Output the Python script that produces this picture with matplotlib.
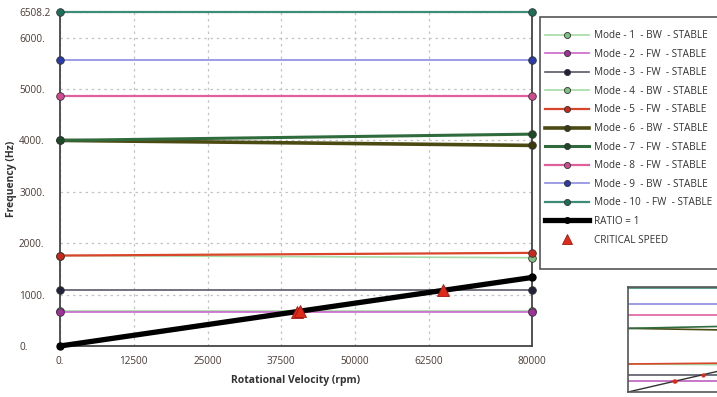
import matplotlib
matplotlib.use('Agg')
import matplotlib.pyplot as plt
from matplotlib.patches import Rectangle

plt.rcParams['font.family'] = ['Open Sans', 'DejaVu Sans']

# rotational speed at which each mode was evaluated (rpm)
speed = [0, 80000]

mode_labels = [
    'Mode - 1  - BW  - STABLE',
    'Mode - 2  - FW  - STABLE',
    'Mode - 3  - FW  - STABLE',
    'Mode - 4  - BW  - STABLE',
    'Mode - 5  - FW  - STABLE',
    'Mode - 6  - BW  - STABLE',
    'Mode - 7  - FW  - STABLE',
    'Mode - 8  - FW  - STABLE',
    'Mode - 9  - BW  - STABLE',
    'Mode - 10  - FW  - STABLE',
]
# frequency (Hz) at 0 and 80000 rpm
mode_freqs = [
    [678, 678],
    [665, 665],
    [1088, 1088],
    [1760, 1718],
    [1760, 1812],
    [4000, 3903],
    [4000, 4122],
    [4870, 4870],
    [5560, 5560],
    [6508.2, 6508.2],
]
line_colors = ['#a6dba6', '#cc66cc', '#5a5a6a', '#a6dba6', '#d9452a',
               '#4b4a12', '#2f6b3c', '#e0609e', '#8c8ce0', '#3d8c78']
marker_colors = ['#7fc07f', '#a0309a', '#22223a', '#7fc07f', '#c8281a',
                 '#3a3a0c', '#1c4a26', '#d04a90', '#2a3ca8', '#1f6e5a']
line_widths = [1.2, 1.2, 1.2, 1.2, 1.6, 2.6, 2.2, 1.6, 1.2, 1.6]

ratio_speed = [0, 80000]
ratio_freq = [0, 1333.3]

crit_speed = [40100, 40660, 64980]
crit_freq = [668, 678, 1083]

xticks = [0, 12500, 25000, 37500, 50000, 62500, 80000]
xtick_labels = ['0.', '12500', '25000', '37500', '50000', '62500', '80000']
yticks = [0, 1000, 2000, 3000, 4000, 5000, 6000, 6508.2]
ytick_labels = ['0.', '1000.', '2000.', '3000.', '4000.', '5000.', '6000.', '6508.2']

fig = plt.figure(figsize=(7.17, 3.97), dpi=100)
ax = fig.add_axes([60 / 717, 1 - 346 / 397, 472 / 717, 334.5 / 397])

handles = []
for i in range(len(mode_labels)):
    h, = ax.plot(speed, mode_freqs[i], color=line_colors[i], lw=line_widths[i],
                 marker='o', ms=5.5, mfc=marker_colors[i], mec='#333333', mew=0.6,
                 clip_on=False, zorder=3, label=mode_labels[i])
    handles.append(h)

h, = ax.plot(ratio_speed, ratio_freq, color='black', lw=3.8, marker='o', ms=5,
             mfc='black', mec='black', clip_on=False, zorder=4, label='RATIO = 1')
handles.append(h)
h, = ax.plot(crit_speed, crit_freq, ls='none', marker='^', ms=9, mfc='#e02a1a',
             mec='#a01a10', mew=0.6, zorder=5, label='CRITICAL SPEED')
handles.append(h)

ax.set_xlim(0, 80000)
ax.set_ylim(0, 6508.2)
ax.set_xticks(xticks)
ax.set_xticklabels(xtick_labels)
ax.set_yticks(yticks)
ax.set_yticklabels([])
ax.grid(True, ls=(0, (2, 3)), color='#c4c4c4', lw=0.9)
ax.tick_params(axis='both', length=0, labelsize=7.2, labelcolor='#4a3a34')
ax.tick_params(axis='x', pad=7)

# left-aligned y tick labels, as in the original software
for yv, lab in zip(yticks, ytick_labels):
    ax.text(-41 / 472, yv, lab, transform=ax.get_yaxis_transform(), ha='left',
            va='center_baseline', fontsize=7.2, color='#4a3a34')

for s in ['left', 'right', 'bottom']:
    ax.spines[s].set_color('#444444')
    ax.spines[s].set_linewidth(1.3)
ax.spines['top'].set_visible(False)

ax.set_xlabel('Rotational Velocity (rpm)', fontsize=7.5, fontweight='bold',
              color='#333333', labelpad=6)
ax.set_ylabel('Frequency (Hz)', fontsize=7.5, fontweight='bold', color='#333333')
ax.yaxis.set_label_coords(-43 / 472, 0.5)

# legend box
fig.patches.append(Rectangle((540 / 717, 1 - 269 / 397), 190 / 717, 252 / 397,
                             transform=fig.transFigure, facecolor='white',
                             edgecolor='#555555', lw=1.2, zorder=0))
leg = fig.legend(handles=handles, loc='upper left',
                 bbox_to_anchor=(545 / 717, 1 - 30 / 397), fontsize=7.2,
                 frameon=False, handlelength=4.4, labelspacing=0.76, borderpad=0,
                 handletextpad=0.5, borderaxespad=0, markerscale=0.8)
for t in leg.get_texts():
    t.set_color('#333333')

# small overview thumbnail at the bottom right
ins = fig.add_axes([628 / 717, 1 - 392 / 397, 92 / 717, 105 / 397])
for i in range(len(mode_labels)):
    ins.plot(speed, mode_freqs[i], color=line_colors[i], lw=1.2)
ins.plot(ratio_speed, ratio_freq, color='#333333', lw=1)
ins.plot(crit_speed, crit_freq, ls='none', marker='o', ms=2, color='#e02a1a')
ins.set_xlim(0, 80000)
ins.set_ylim(0, 6600)
ins.set_xticks([])
ins.set_yticks([])
for s in ins.spines.values():
    s.set_color('#555555')
    s.set_linewidth(1.2)

fig.savefig('out.png', dpi=100)
